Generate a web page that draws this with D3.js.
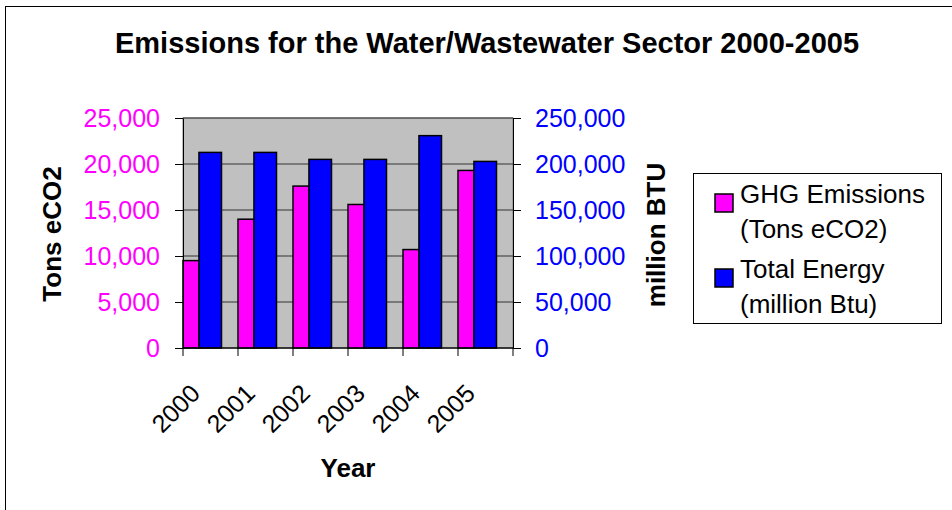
<!DOCTYPE html>
<html>
<head>
<meta charset="utf-8">
<script src="https://cdn.jsdelivr.net/npm/d3@7"></script>
<style>
  body { margin: 0; background: #fff; }
  text { font-family: "Liberation Sans", Arial, sans-serif; }
</style>
</head>
<body>
<svg id="chart"></svg>
<script>
const years = ['2000', '2001', '2002', '2003', '2004', '2005'];
const ghgEmissions = [9500, 14000, 17600, 15600, 10700, 19300];
const totalEnergy = [212600, 212600, 205000, 205000, 230800, 202800];
const leftTicks = [0, 5000, 10000, 15000, 20000, 25000];
const rightTicks = [0, 50000, 100000, 150000, 200000, 250000];

const svg = d3.select('#chart');
svg.attr('width', 952).attr('height', 510);

// outer chart frame
svg.append('rect')
  .attr('x', 5.5).attr('y', 6.5)
  .attr('width', 1000).attr('height', 600)
  .attr('fill', '#fff')
  .attr('stroke', '#000')
  .attr('stroke-width', 1);

const plot = { left: 183, right: 513, top: 118, bottom: 348 };

const x = d3.scaleBand().domain(years).range([plot.left, plot.right]);
const yLeft = d3.scaleLinear().domain([0, 25000]).range([plot.bottom, plot.top]);
const yRight = d3.scaleLinear().domain([0, 250000]).range([plot.bottom, plot.top]);
const fmt = d3.format(',');

svg.append('rect')
  .attr('x', plot.left).attr('y', plot.top)
  .attr('width', plot.right - plot.left).attr('height', plot.bottom - plot.top)
  .attr('fill', '#c0c0c0')
  .attr('stroke', '#808080')
  .attr('stroke-width', 1);

// gridlines
svg.append('g').selectAll('line')
  .data(leftTicks)
  .enter()
  .append('line')
  .attr('x1', plot.left).attr('x2', plot.right)
  .attr('y1', d => yLeft(d)).attr('y2', d => yLeft(d))
  .attr('stroke', '#333')
  .attr('stroke-width', 1);

const bw = x.bandwidth();

svg.append('g').selectAll('rect')
  .data(ghgEmissions)
  .enter()
  .append('rect')
  .attr('x', (d, i) => x(years[i]))
  .attr('y', d => yLeft(d))
  .attr('width', bw * 0.29)
  .attr('height', d => plot.bottom - yLeft(d))
  .attr('fill', '#ff00ff')
  .attr('stroke', '#000')
  .attr('stroke-width', 1.5);

svg.append('g').selectAll('rect')
  .data(totalEnergy)
  .enter()
  .append('rect')
  .attr('x', (d, i) => x(years[i]) + bw * 0.29)
  .attr('y', d => yRight(d))
  .attr('width', bw * 0.41)
  .attr('height', d => plot.bottom - yRight(d))
  .attr('fill', '#0000ff')
  .attr('stroke', '#000')
  .attr('stroke-width', 1.5);

// left axis
const leftAxis = svg.append('g')
  .attr('transform', `translate(${plot.left},0)`)
  .call(d3.axisLeft(yLeft).tickValues(leftTicks).tickFormat(fmt).tickSize(8).tickSizeOuter(0).tickPadding(15));
leftAxis.selectAll('text').attr('fill', '#ff00ff').style('font-size', '25px');
leftAxis.selectAll('line, path').attr('stroke', '#000');
leftAxis.attr('font-family', null);

// right axis
const rightAxis = svg.append('g')
  .attr('transform', `translate(${plot.right},0)`)
  .call(d3.axisRight(yRight).tickValues(rightTicks).tickFormat(fmt).tickSize(8).tickSizeOuter(0).tickPadding(14));
rightAxis.selectAll('text').attr('fill', '#0000ff').style('font-size', '25px');
rightAxis.selectAll('line, path').attr('stroke', '#000');
rightAxis.attr('font-family', null);

// x axis
const xAxis = svg.append('g');
xAxis.append('line')
  .attr('x1', plot.left).attr('x2', plot.right)
  .attr('y1', plot.bottom).attr('y2', plot.bottom)
  .attr('stroke', '#000');
xAxis.selectAll('line.tick')
  .data(years.map(y => x(y)).concat([plot.right]))
  .enter()
  .append('line')
  .attr('class', 'tick')
  .attr('x1', d => d).attr('x2', d => d)
  .attr('y1', plot.bottom).attr('y2', plot.bottom + 8)
  .attr('stroke', '#000');
xAxis.selectAll('text')
  .data(years)
  .enter()
  .append('text')
  .attr('transform', d => `translate(${x(d) + bw / 2 - 9},${plot.bottom + 47}) rotate(-45)`)
  .attr('text-anchor', 'end')
  .style('font-size', '25px')
  .text(d => d);

// titles
svg.append('text')
  .attr('x', 487).attr('y', 53)
  .attr('text-anchor', 'middle')
  .style('font-size', '29px').style('font-weight', 'bold')
  .text('Emissions for the Water/Wastewater Sector 2000-2005');

svg.append('text')
  .attr('transform', 'translate(61,234) rotate(-90)')
  .attr('text-anchor', 'middle')
  .style('font-size', '26px').style('font-weight', 'bold')
  .text('Tons eCO2');

svg.append('text')
  .attr('transform', 'translate(665,235) rotate(-90)')
  .attr('text-anchor', 'middle')
  .style('font-size', '26px').style('font-weight', 'bold')
  .text('million BTU');

svg.append('text')
  .attr('x', 348).attr('y', 477)
  .attr('text-anchor', 'middle')
  .style('font-size', '26px').style('font-weight', 'bold')
  .text('Year');

// legend
const legend = svg.append('g');
legend.append('rect')
  .attr('x', 693.5).attr('y', 173.5)
  .attr('width', 248).attr('height', 150)
  .attr('fill', '#fff')
  .attr('stroke', '#000');

const legendItems = [
  { color: '#ff00ff', lines: ['GHG Emissions', '(Tons eCO2)'], y: 203 },
  { color: '#0000ff', lines: ['Total Energy', '(million Btu)'], y: 278 }
];
legendItems.forEach(item => {
  legend.append('rect')
    .attr('x', 715).attr('y', item.y - 9)
    .attr('width', 18).attr('height', 18)
    .attr('fill', item.color)
    .attr('stroke', '#000')
    .attr('stroke-width', 1.5);
  item.lines.forEach((t, j) => {
    legend.append('text')
      .attr('x', 740).attr('y', item.y + j * 35)
      .style('font-size', '26px')
      .text(t);
  });
});
</script>
</body>
</html>
